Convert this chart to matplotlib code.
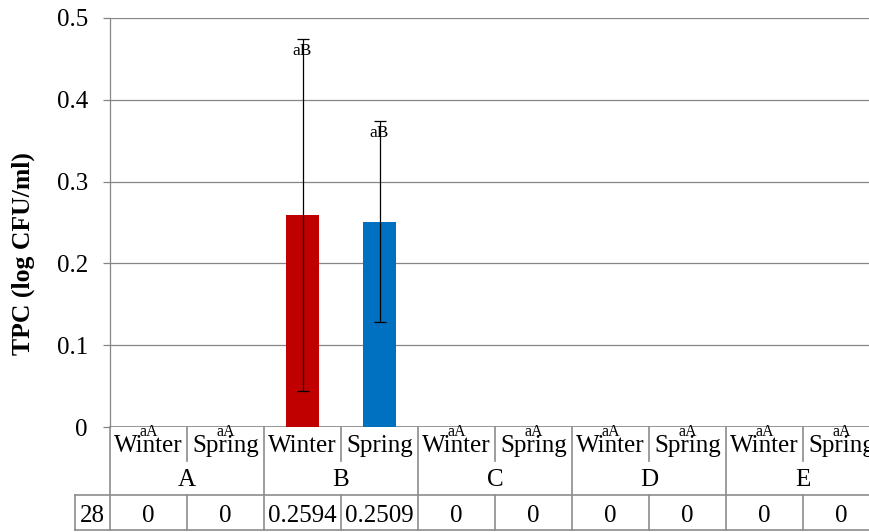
import matplotlib
matplotlib.use("Agg")
import matplotlib.pyplot as plt
from matplotlib.transforms import blended_transform_factory
import numpy as np

groups = ["A", "B", "C", "D", "E"]
seasons = ["Winter", "Spring"]
values = [0, 0, 0.2594, 0.2509, 0, 0, 0, 0, 0, 0]
errors = [0, 0, 0.215, 0.123, 0, 0, 0, 0, 0, 0]
letters = ["aA", "aA", "aB", "aB", "aA", "aA", "aA", "aA", "aA", "aA"]
row_label = "28"
value_labels = ["0", "0", "0.2594", "0.2509", "0", "0", "0", "0", "0", "0"]
yticks = [0, 0.1, 0.2, 0.3, 0.4, 0.5]

plt.rcParams['font.family'] = ['Liberation Serif', 'DejaVu Serif']

W, H = 870, 532
fig = plt.figure(figsize=(W / 100, H / 100), dpi=100)
left_px, right_px, top_px, bot_px = 110, 880, 18, 427
ax = fig.add_axes([left_px / W, (H - bot_px) / H, (right_px - left_px) / W, (bot_px - top_px) / H])

n = len(values)
x = np.arange(n)
bar_colors = ["#C00000" if i % 2 == 0 else "#0070C0" for i in range(n)]
ax.bar(x, values, width=0.42, color=bar_colors, zorder=3)

for i in range(n):
    if errors[i] > 0:
        ax.errorbar(x[i], values[i], yerr=errors[i], fmt='none', ecolor='black',
                    elinewidth=0.9, capsize=4.3, capthick=0.9, zorder=4)

for i in range(n):
    top = values[i] + errors[i]
    if errors[i] > 0:
        ax.annotate(letters[i], (x[i], top), xytext=(0, -16), textcoords='offset pixels',
                    ha='center', va='baseline', fontsize=12.5, zorder=5)
    else:
        ax.annotate(letters[i], (x[i], 0), xytext=(0, -9), textcoords='offset pixels',
                    ha='center', va='baseline', fontsize=11.5, zorder=5, annotation_clip=False)

ax.set_xlim(-0.5, n - 0.5)
ax.set_ylim(0, 0.5)
ax.set_yticks(yticks)
ax.set_yticklabels([f"{t:g}" for t in yticks], fontsize=18)
ax.set_xticks([])
ax.grid(axis='y', color='#868686', linewidth=0.9, zorder=0)
for s in ['top', 'right', 'bottom']:
    ax.spines[s].set_visible(False)
ax.spines['left'].set_color('#868686')
ax.spines['left'].set_linewidth(0.9)
ax.tick_params(axis='y', length=5, width=0.9, color='#868686', pad=11)
ax.axhline(0, color='#868686', linewidth=1.2, zorder=2)

ax.set_ylabel("TPC (log CFU/ml)", fontsize=18.5, fontweight='bold', labelpad=0)
ax.yaxis.set_label_coords(-(110 - 35) / (right_px - left_px), (bot_px - 254) / (bot_px - top_px))

# category table below axis
ph = bot_px - top_px
def yf(px):
    return (bot_px - px) / ph

tr = blended_transform_factory(ax.transData, ax.transAxes)
lc = '#8c8c8c'
lw = 1.2
kw = dict(transform=tr, color=lc, linewidth=lw, clip_on=False)
fs = 18

for i in range(n):
    ax.text(x[i], yf(452), seasons[i % 2], transform=tr, ha='center', va='baseline', fontsize=fs)
    ax.text(x[i], yf(522), value_labels[i], transform=tr, ha='center', va='baseline', fontsize=fs)
for g, name in enumerate(groups):
    ax.text(2 * g + 0.5, yf(486), name, transform=tr, ha='center', va='baseline', fontsize=fs)

for i in range(n + 1):
    xb = i - 0.5
    if i % 2 == 0:
        ax.plot([xb, xb], [yf(427), yf(530)], **kw)
    else:
        ax.plot([xb, xb], [yf(427), yf(461)], **kw)
        ax.plot([xb, xb], [yf(495), yf(530)], **kw)

x28 = -0.5 - 35 / 77
ax.plot([x28, n - 0.5], [yf(495), yf(495)], **kw)
ax.plot([x28, n - 0.5], [yf(530), yf(530)], **kw)
ax.plot([x28, x28], [yf(495), yf(530)], **kw)
ax.text((x28 - 0.5) / 2, yf(522), row_label, transform=tr, ha='center', va='baseline', fontsize=fs)

fig.savefig("out.png", dpi=100)
